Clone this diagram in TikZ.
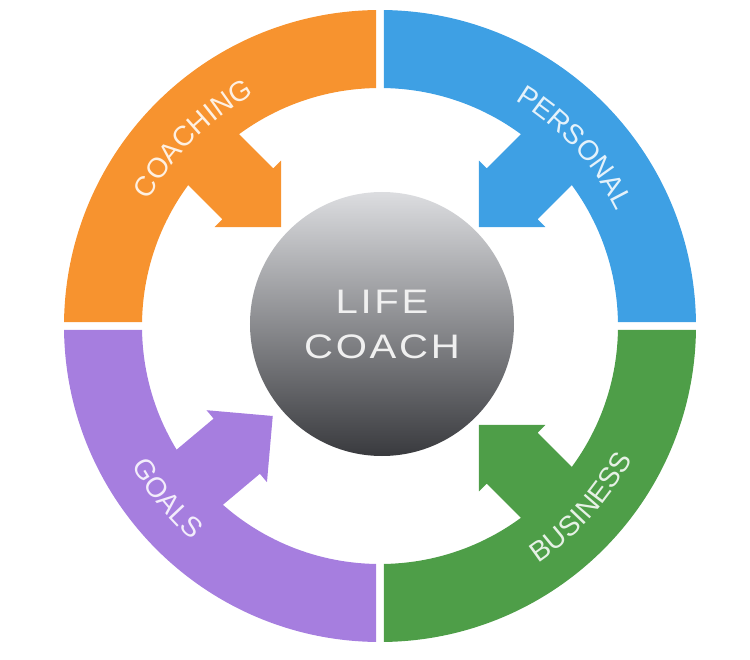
\documentclass[tikz,border=0pt]{standalone}
\usepackage{fontspec}
\setmainfont{Liberation Sans}
\newfontfamily\hubfont{Liberation Sans}[FakeStretch=1.18,LetterSpace=8]
\newfontfamily\ringfont{Liberation Sans}
\usetikzlibrary{decorations.text}
\definecolor{persblue}{HTML}{3EA0E4}
\definecolor{coachorange}{HTML}{F7932F}
\definecolor{goalpurple}{HTML}{A67EDF}
\definecolor{busgreen}{HTML}{4E9E48}
\definecolor{hubtop}{HTML}{DCDDE0}
\definecolor{hubbottom}{HTML}{393A3E}
\tikzset{
x=1pt, y=1pt, % one unit is one pixel of the reference
hub/.style={circle, minimum size=264pt, inner sep=0pt, top color=hubtop, bottom color=hubbottom, text=white!94!black, align=center, font=\hubfont\fontsize{34}{45}\selectfont}, % the middle ball
ringtext/.style 2 args={decorate, decoration={text along path, text align={center}, text color=white!86!#1, text={|\ringfont\fontsize{28}{30}\selectfont|#2}}}, % label bent along the ring
}

\begin{document}
\begin{tikzpicture}
        \useasboundingbox (-380,-333) rectangle (370,326);

        % four quarters of the ring, a small gap between them
        \foreach \col/\rot in {persblue/0, coachorange/90, goalpurple/180, busgreen/270}
            \fill[\col, rotate=\rot] ({asin(4/316)}:316) arc[start angle={asin(4/316)}, end angle={90-asin(4/316)}, radius=316]
                -- ({90-asin(4/238)}:238) arc[start angle={90-asin(4/238)}, end angle={asin(4/238)}, radius=238] -- cycle;

        % arrows from the ring to the middle
        \foreach \col/\ang in {persblue/45, coachorange/135, goalpurple/220, busgreen/-45}
            \fill[\col, rotate=\ang] (140,0) -- (187,47) -- (187,36) -- (250,36) -- (250,-36) -- (187,-36) -- (187,-47) -- cycle;

        \node[hub] (hub) at (2,2) {LIFE\\COACH};

        \path[ringtext={coachorange}{COACHING}] (165:263) arc[start angle=165, end angle=105, radius=263];
        \path[ringtext={persblue}{PERSONAL}] (72.5:263) arc[start angle=72.5, end angle=12.5, radius=263];
        \path[ringtext={goalpurple}{GOALS}] (189:285) arc[start angle=189, end angle=249, radius=285];
        \path[ringtext={busgreen}{BUSINESS}] (-72:285) arc[start angle=-72, end angle=-12, radius=285];
    \end{tikzpicture}
\end{document}
